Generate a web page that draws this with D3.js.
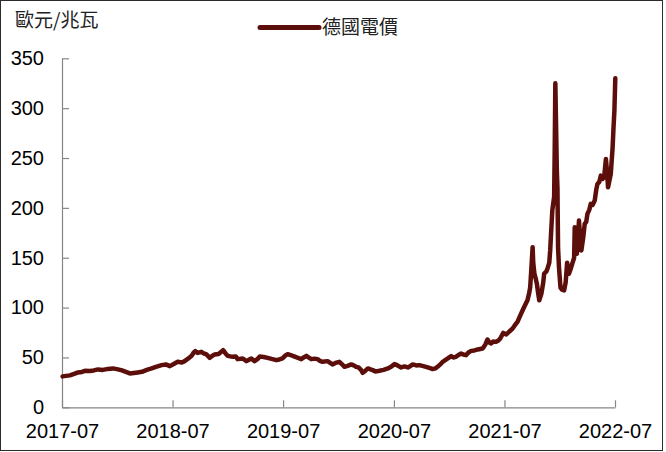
<!DOCTYPE html>
<html>
<head>
<meta charset="utf-8">
<script src="https://cdn.jsdelivr.net/npm/d3@7"></script>
<style>
  html, body { margin: 0; padding: 0; background: #fff; }
  svg { display: block; }
</style>
</head>
<body>
<svg id="chart" width="666" height="452"></svg>
<script>
const unitLabel = "歐元/兆瓦";
const seriesName = "德國電價";
const yTicks = [0, 50, 100, 150, 200, 250, 300, 350];
const xTicks = ["2017-07-01", "2018-07-01", "2019-07-01", "2020-07-01", "2021-07-01", "2022-07-01"];

const dates = [
  "2017-07-03","2017-07-14","2017-07-27","2017-08-10","2017-08-23","2017-09-05","2017-09-15","2017-10-01","2017-10-14","2017-10-28",
  "2017-11-13","2017-11-30","2017-12-16","2018-01-02","2018-01-15","2018-01-28","2018-02-10","2018-02-23","2018-03-08","2018-03-22",
  "2018-04-07","2018-04-23","2018-05-07","2018-05-26","2018-06-09","2018-06-22","2018-07-05","2018-07-18","2018-08-01","2018-08-10",
  "2018-08-20","2018-09-02","2018-09-09","2018-09-14","2018-09-22","2018-10-04","2018-10-12","2018-10-21","2018-11-01","2018-11-11",
  "2018-11-17","2018-11-30","2018-12-15","2018-12-23","2018-12-30",
  "2019-01-16","2019-01-26","2019-02-01","2019-02-18","2019-03-02","2019-03-09","2019-03-18","2019-03-29","2019-04-08","2019-04-15",
  "2019-04-28","2019-05-11","2019-05-24","2019-06-09","2019-06-19","2019-06-29","2019-07-09","2019-07-16","2019-07-24","2019-08-02",
  "2019-08-15","2019-08-30","2019-09-07","2019-09-16","2019-09-23","2019-10-02","2019-10-13","2019-10-23","2019-10-31","2019-11-08",
  "2019-11-25","2019-12-11","2019-12-21","2020-01-03","2020-01-12","2020-01-20","2020-01-30","2020-02-11","2020-02-19","2020-02-27",
  "2020-03-06","2020-03-15","2020-03-20","2020-03-28","2020-04-06","2020-04-15","2020-04-22","2020-05-01","2020-05-14","2020-05-28",
  "2020-06-11","2020-06-23","2020-07-03","2020-07-13","2020-07-25","2020-08-05","2020-08-16","2020-08-25","2020-09-01","2020-09-13",
  "2020-09-23","2020-10-03","2020-10-15","2020-10-26","2020-11-06","2020-11-15","2020-11-22","2020-12-01","2020-12-09","2020-12-21",
  "2021-01-06","2021-01-13","2021-01-22","2021-01-30","2021-02-08","2021-02-15","2021-02-24","2021-03-04","2021-03-13","2021-03-24",
  "2021-04-04","2021-04-12","2021-04-20","2021-04-29","2021-05-06","2021-05-12","2021-05-18","2021-05-25","2021-06-03","2021-06-11",
  "2021-06-17","2021-06-27","2021-07-07","2021-07-17","2021-07-28","2021-08-06","2021-08-13","2021-08-22","2021-08-30","2021-09-08",
  "2021-09-15","2021-09-21","2021-09-24","2021-09-28","2021-10-02","2021-10-04","2021-10-08","2021-10-13","2021-10-16","2021-10-20",
  "2021-10-24","2021-10-31","2021-11-06","2021-11-09","2021-11-16","2021-11-20","2021-11-26","2021-11-29","2021-12-02","2021-12-06",
  "2021-12-12","2021-12-14","2021-12-16","2021-12-18","2021-12-21","2021-12-23","2021-12-25","2021-12-28","2022-01-02","2022-01-07",
  "2022-01-14","2022-01-19","2022-01-24","2022-01-30","2022-02-06","2022-02-10","2022-02-16","2022-02-18","2022-02-25","2022-03-01",
  "2022-03-04","2022-03-08","2022-03-12","2022-03-18","2022-03-23","2022-03-28","2022-04-01","2022-04-07","2022-04-12","2022-04-18",
  "2022-04-25","2022-04-30","2022-05-04","2022-05-10","2022-05-15","2022-05-21","2022-05-26","2022-06-01","2022-06-05","2022-06-08",
  "2022-06-13","2022-06-17","2022-06-23","2022-06-26","2022-06-29","2022-07-02"
];
const prices = [
  31,31.5,32,33.5,35,35.5,36.6,36.5,37,38,
  37.5,38.5,39,38,37,35.5,34,34.5,35,35.6,
  37.5,39,40.5,42.3,43,41.3,43.5,45.6,45,46.3,
  48.5,51.6,55,56.3,54.5,55.6,54,53,49.6,52,
  53,53.5,57.3,54,51.6,
  50.6,51,48.3,49,46.3,47.5,49,46.3,48.5,51,
  50.5,49.6,48.5,47.3,48,49,52,53.3,52.5,51.6,
  50,48.3,50,51.6,50,48.3,48.8,48.3,46.5,45.6,
  46.3,43,44.5,45.6,43,40.6,41.5,43,42,40.6,
  40,37.3,34.6,36.5,39,38,37.3,36,36.6,37.5,
  39,41,43.3,42,40,41,40,41.5,43,42,
  42.3,41.5,40.6,39.5,38.3,39,40.6,43,45.6,48,
  51.3,50,50.6,52.5,54,53,52.3,55,56.6,57,
  58,58.5,59,63,68,65,64,66,65.6,67,
  69,74.6,73,76,79,83,85.6,92,97.3,103,
  107.3,115,120.6,140,160.6,145,134,128,124,115,
  107.3,114,125,134,136,139,145,157.3,175,197.3,
  211,260,325,290,237,220,160,140.6,120,118,
  117.3,125,145,134,140,144,150,180.6,154,170,
  187.3,170,157.3,170,184,186,194,198,204,203,
  207.3,218,224,226,232.3,229,230.6,249,235,220.6,
  228,234,260,280,297.3,330
];

const parse = d3.timeParse("%Y-%m-%d");
const data = dates.map((d, i) => ({ date: parse(d), value: prices[i] }));

const svg = d3.select("#chart");
const plotLeft = 62, plotRight = 615, plotTop = 58.3, plotBottom = 407.3;

// outer frame
svg.append("rect").attr("x", 0.5).attr("y", 0.5).attr("width", 662).attr("height", 450)
  .attr("fill", "#fff").attr("stroke", "#2b2b2b").attr("stroke-width", 1);

const x = d3.scaleTime()
  .domain([parse(xTicks[0]), parse(xTicks[xTicks.length - 1])])
  .range([plotLeft, plotRight]);
const y = d3.scaleLinear().domain([0, 350]).range([plotBottom, plotTop]);

const axisColor = "#868686";
const fontFam = "'Liberation Sans', Arial, sans-serif";

const yAxis = svg.append("g").attr("transform", `translate(${plotLeft},0)`)
  .call(d3.axisLeft(y).tickValues(yTicks).tickSizeInner(-7).tickSizeOuter(0).tickPadding(18));
const xAxis = svg.append("g").attr("transform", `translate(0,${plotBottom})`)
  .call(d3.axisBottom(x).tickValues(xTicks.map(parse)).tickFormat(d3.timeFormat("%Y-%m"))
    .tickSizeInner(-7).tickSizeOuter(0).tickPadding(17));

[yAxis, xAxis].forEach(g => {
  g.selectAll("path.domain").attr("stroke", axisColor).attr("stroke-width", 1.2);
  g.selectAll(".tick line").attr("stroke", axisColor).attr("stroke-width", 1.2);
  g.selectAll(".tick text").attr("fill", "#000").style("font-family", fontFam).style("font-size", "20px");
});

const line = d3.line().x(d => x(d.date)).y(d => y(d.value));
const lineColor = "#5c0f0a";
svg.append("path").datum(data).attr("d", line)
  .attr("fill", "none").attr("stroke", lineColor).attr("stroke-width", 4.5)
  .attr("stroke-linejoin", "round").attr("stroke-linecap", "round");

// unit label
svg.append("text").attr("x", 15).attr("y", 20).attr("dy", "0.35em")
  .style("font-family", "'Noto Sans CJK TC', sans-serif").style("font-size", "19px")
  .attr("fill", "#222").text(unitLabel);

// legend
svg.append("line").attr("x1", 260).attr("x2", 319).attr("y1", 27.5).attr("y2", 27.5)
  .attr("stroke", lineColor).attr("stroke-width", 5).attr("stroke-linecap", "round");
svg.append("text").attr("x", 322).attr("y", 27.5).attr("dy", "0.35em")
  .style("font-family", "'Noto Sans CJK TC', sans-serif").style("font-size", "19px")
  .attr("fill", "#222").text(seriesName);
</script>
</body>
</html>
